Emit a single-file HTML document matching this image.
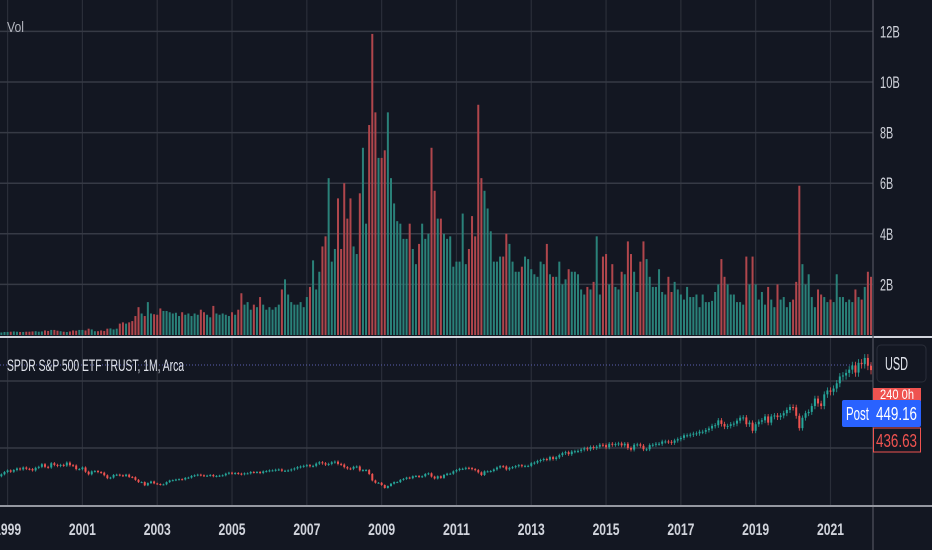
<!DOCTYPE html>
<html><head><meta charset="utf-8"><style>
html,body{margin:0;padding:0;background:#131722;}
body{width:932px;height:550px;overflow:hidden;position:relative;font-family:"Liberation Sans",sans-serif;}
svg{position:absolute;left:0;top:0;}
</style></head><body>
<svg id="chart" width="932" height="550"></svg>
<script>
const startYear = 1998, startMonth = 9; // Oct 1998
const closes = [110,116,123,
128,124,129,134,131,137,133,132,128,136,139,147,
139,137,150,145,142,145,143,152,144,143,132,132,
137,124,116,125,126,123,121,113,104,106,114,115,
113,111,115,108,107,99,92,92,82,89,94,88,
86,84,85,92,97,98,100,101,100,105,106,111,
113,115,113,111,112,114,110,111,112,113,118,121,
118,120,118,116,119,119,123,122,123,120,125,126,
128,128,130,131,127,127,128,131,134,138,140,142,
144,141,142,149,153,150,146,148,153,155,148,146,
138,134,133,139,140,128,129,129,117,97,90,90,
83,74,80,87,92,92,99,102,106,104,110,111,
108,110,117,119,109,103,110,105,114,118,118,125,
129,133,133,136,135,132,129,122,114,125,125,126,
131,137,141,140,131,136,138,141,144,141,142,142,
150,152,157,160,163,161,169,163,168,175,181,184,
178,186,187,188,192,196,193,200,197,201,207,206,
199,210,207,209,211,205,210,197,192,207,208,204,
193,193,206,207,210,210,217,217,216,213,220,224,
228,236,236,238,241,242,247,247,252,257,265,267,
282,271,263,265,270,272,281,290,291,270,275,250,
270,278,282,294,275,294,297,292,297,304,314,323,
322,296,258,290,304,308,326,349,334,326,362,374,
370,380,396,417,420,428,438,451,429,459,455,474,
450,436.63];
const volumes = [0.12,0.1,0.12,
0.12,0.13,0.14,0.13,0.12,0.12,0.13,0.13,0.14,0.15,0.13,0.14,
0.18,0.16,0.2,0.2,0.17,0.15,0.13,0.12,0.14,0.18,0.17,0.2,
0.2,0.18,0.25,0.22,0.15,0.15,0.18,0.16,0.25,0.26,0.22,0.25,
0.45,0.5,0.45,0.5,0.55,0.75,1.1,0.85,0.75,1.3,0.85,0.82,
0.8,1.05,0.95,0.95,0.9,0.85,0.88,0.75,0.9,0.8,0.85,0.75,
0.85,0.8,1.0,0.9,0.8,0.7,1.15,0.85,0.8,0.85,0.8,0.75,
0.9,0.8,1.0,1.65,1.2,1.3,1.0,1.2,1.1,1.5,1.2,1.0,
1.1,1.0,1.1,1.2,1.8,2.2,1.6,1.3,1.2,1.2,1.3,1.1,
1.5,1.9,2.95,1.8,2.5,3.5,3.9,6.2,2.9,3.4,5.4,3.4,
6.0,4.6,5.4,3.5,3.2,5.6,7.4,4.4,8.3,11.9,8.8,7.0,
7.0,7.3,8.8,6.2,5.2,4.5,4.4,3.8,3.8,4.4,3.4,2.8,
3.6,4.4,3.8,4.0,7.4,5.7,4.6,4.6,4.0,3.8,3.9,2.7,
2.9,2.9,4.8,2.8,3.4,4.7,3.9,9.1,6.2,5.7,5.0,4.1,
2.9,2.9,3.1,3.1,4.0,3.6,2.9,2.5,2.5,2.7,3.1,3.0,
2.6,2.4,2.3,2.9,2.8,3.6,2.4,2.3,2.3,2.9,2.0,2.2,
2.6,2.5,2.5,2.4,1.8,1.6,1.9,1.8,2.1,3.9,1.6,3.1,
3.2,2.0,2.8,1.9,1.8,2.5,2.4,3.7,3.2,2.5,1.7,2.9,
3.7,3.0,2.3,1.9,1.9,2.6,1.7,1.6,2.3,1.7,2.1,1.8,
1.6,1.4,1.9,1.5,1.5,1.6,1.1,1.6,1.3,1.3,1.35,1.7,
2.0,3.0,2.3,2.0,1.6,1.6,1.3,1.3,1.2,3.1,2.0,3.1,
2.0,1.4,1.7,1.2,1.9,1.4,1.1,2.0,1.4,1.5,1.1,1.3,
1.4,2.1,5.9,2.8,2.0,2.4,1.5,1.1,1.8,1.6,1.5,1.3,
1.4,1.3,2.4,1.5,1.5,1.3,1.4,1.3,1.8,1.5,1.4,1.9,
2.5,2.3];
const volTicks = [2,4,6,8,10,12];
const yearLabels = [1999,2001,2003,2005,2007,2009,2011,2013,2015,2017,2019,2021];

const NS="http://www.w3.org/2000/svg";
const svg=document.getElementById('chart');
function mk(tag,attrs,parent){const e=document.createElementNS(NS,tag);for(const k in attrs)e.setAttribute(k,attrs[k]);(parent||svg).appendChild(e);return e;}
const monthW=3.117;
function xOf(i){return 7.6+(i-3)*monthW;}
function xYear(y){return xOf(3+(y-1999)*12);}
function yVol(v){return 335-v*25.3;}
function yPrice(p){return 512-0.325*p;}
const plotR=873;

const grid=mk('g',{});


yearLabels.forEach(y=>{const x=xYear(y);
 mk('line',{x1:x,x2:x,y1:0,y2:506,stroke:'#2a2e39','stroke-width':1.2},grid);});
volTicks.forEach(t=>{const y=yVol(t);
 mk('line',{x1:0,x2:plotR,y1:y,y2:y,stroke:'#363a45','stroke-width':1.5},grid);});
[381,448].forEach(y=>mk('line',{x1:0,x2:plotR,y1:y,y2:y,stroke:'#363a45','stroke-width':1.5},grid));

const vg=mk('g',{});


volumes.forEach((v,i)=>{
 const open=i>0?closes[i-1]:closes[i];
 const up=closes[i]>=open;
 const x=xOf(i);
 const b=mk('rect',{x:x-1,y:yVol(v),width:2,height:335-yVol(v),fill:up?'#2a8179':'#b0464c'},vg);
 
 
});
mk('rect',{x:plotR,y:0,width:60,height:506,fill:'#131722'});

const sep=mk('rect',{x:0,y:336,width:932,height:2,fill:'#d1d4dc'});



mk('line',{x1:0,x2:plotR,y1:365,y2:365,stroke:'#5b5fb0','stroke-width':1,'stroke-dasharray':'1,2'});

const cg=mk('g',{});


closes.forEach((c,i)=>{
 const o=i>0?closes[i-1]:c*0.98;
 const up=c>=o;const col=up?'#26a69a':'#ef5350';
 const hi=Math.max(o,c)*1.025, lo=Math.min(o,c)*0.97;
 const x=xOf(i);
 mk('line',{x1:x,x2:x,y1:yPrice(hi),y2:yPrice(lo),stroke:col,'stroke-width':0.8},cg);
 const y1=yPrice(Math.max(o,c)),y2=yPrice(Math.min(o,c));
 const k=mk('rect',{x:x-1,y:y1,width:2,height:Math.max(1,y2-y1),fill:col},cg);
 
 
});

mk('line',{x1:plotR,x2:plotR,y1:0,y2:550,stroke:'#50535e','stroke-width':1.2});
mk('rect',{x:0,y:505,width:932,height:2,fill:'#9598a1'});

volTicks.forEach(t=>{const s=t+'B';const tx=mk('text',{x:880,y:yVol(t)+6,fill:'#d1d4dc','font-size':17,textLength:s.length*6.6,lengthAdjust:'spacingAndGlyphs'});tx.textContent=s;
 });
yearLabels.forEach(y=>{const tx=mk('text',{x:xYear(y)-13.5,y:535,fill:'#d1d4dc','font-size':17,'font-weight':'bold',textLength:27,lengthAdjust:'spacingAndGlyphs'});tx.textContent=y;
 });

let t=mk('text',{x:7,y:32,fill:'#b2b5be','font-size':15,textLength:17,lengthAdjust:'spacingAndGlyphs'});t.textContent='Vol';

t=mk('text',{x:7,y:371,fill:'#e0e3eb','font-size':17,textLength:177,lengthAdjust:'spacingAndGlyphs'});t.textContent='SPDR S&P 500 ETF TRUST, 1M, Arca';


const g2=mk('g',{});


let r=mk('rect',{x:877,y:345,width:49,height:37,rx:4,fill:'#131722',stroke:'#2a2e39'},g2);

t=mk('text',{x:885,y:370,fill:'#e0e3eb','font-size':18,textLength:23,lengthAdjust:'spacingAndGlyphs'},g2);t.textContent='USD';
mk('rect',{x:873,y:388,width:48,height:13,fill:'#ef5350'},g2);
t=mk('text',{x:880,y:399,fill:'#fff','font-size':14,textLength:34,lengthAdjust:'spacingAndGlyphs'},g2);t.textContent='240 0h';
mk('rect',{x:842,y:400,width:79,height:27,rx:2,fill:'#2962ff'},g2);
t=mk('text',{x:846,y:420,fill:'#fff','font-size':18,textLength:23,lengthAdjust:'spacingAndGlyphs'},g2);t.textContent='Post';
t=mk('text',{x:876,y:420,fill:'#fff','font-size':18,textLength:41,lengthAdjust:'spacingAndGlyphs'},g2);t.textContent='449.16';

mk('rect',{x:873.5,y:428,width:47,height:24,fill:'#131722',stroke:'#ef5350'},g2);
t=mk('text',{x:876,y:447,fill:'#ef5350','font-size':18,textLength:41,lengthAdjust:'spacingAndGlyphs'},g2);t.textContent='436.63';

</script>
</body></html>
